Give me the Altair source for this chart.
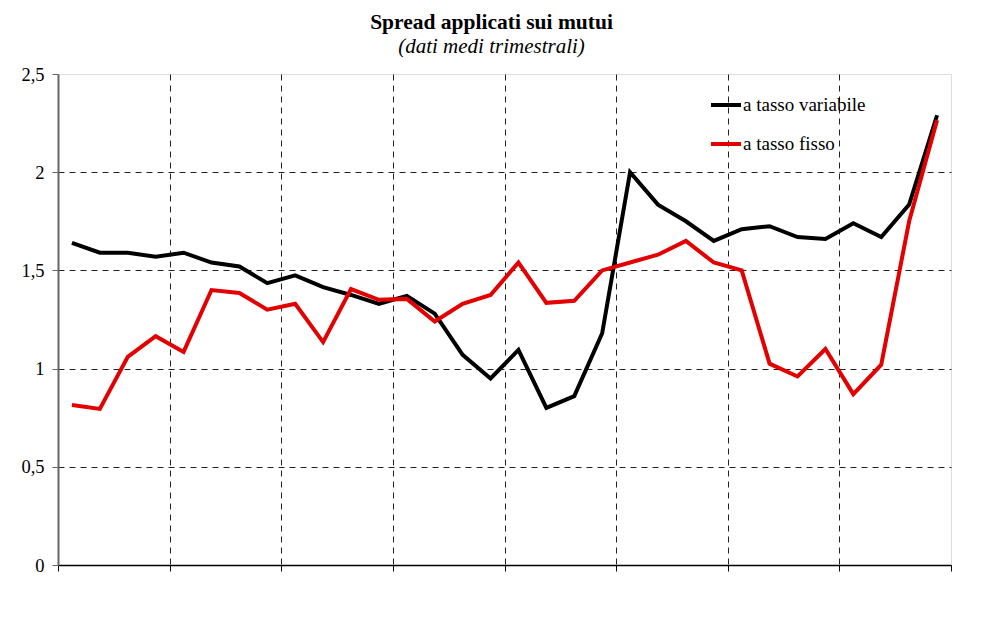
import altair as alt
import pandas as pd

# quarterly observations (32 quarters, 8 years); x labels are not legible in the reference
quarter_index = list(range(32))

variabile = [1.64, 1.59, 1.59, 1.57, 1.59, 1.54, 1.52, 1.435, 1.475, 1.415, 1.375, 1.33,
             1.37, 1.28, 1.07, 0.95, 1.095, 0.80, 0.86, 1.18, 2.00, 1.835, 1.75, 1.65,
             1.71, 1.725, 1.67, 1.66, 1.74, 1.67, 1.835, 2.29]
fisso = [0.815, 0.795, 1.06, 1.165, 1.085, 1.40, 1.385, 1.30, 1.33, 1.135, 1.405, 1.35,
         1.355, 1.24, 1.33, 1.375, 1.54, 1.335, 1.345, 1.50, 1.54, 1.58, 1.65, 1.54,
         1.50, 1.025, 0.96, 1.10, 0.87, 1.02, 1.75, 2.265]

series_names = ["a tasso variabile", "a tasso fisso"]
series_colors = ["#000000", "#e30000"]
year_bounds = [0, 4, 8, 12, 16, 20, 24, 28, 32]
y_ticks = [0, 0.5, 1, 1.5, 2, 2.5]

rows = []
for name, vals in zip(series_names, [variabile, fisso]):
    for q, v in zip(quarter_index, vals):
        rows.append({"q": q + 0.5, "value": v, "serie": name, "order": series_names.index(name)})
df = pd.DataFrame(rows)

FONT = "Liberation Serif"

chart = alt.Chart(df).mark_line(strokeWidth=4, strokeJoin="miter").encode(
    x=alt.X("q:Q", scale=alt.Scale(domain=[0, 32], nice=False, zero=False),
            axis=alt.Axis(values=year_bounds, labels=False, title=None, domainColor="#000000",
                          domainWidth=1.5, tickColor="#000000", tickSize=6, gridColor="#222222",
                          gridDash=[6, 5], gridWidth=1,
                          gridOpacity=alt.condition("datum.value == 0 || datum.value == 32",
                                                    alt.value(0), alt.value(1)))),
    y=alt.Y("value:Q", scale=alt.Scale(domain=[0, 2.5], nice=False),
            axis=alt.Axis(values=y_ticks, title=None, domainColor="#666666", domainWidth=2,
                          tickColor="#666666", tickSize=6, labelPadding=8,
                          labelFont=FONT, labelFontSize=18.5, labelColor="#000000",
                          labelExpr="replace(toString(datum.value), '.', ',')",
                          gridColor="#222222", gridDash=[6, 5], gridWidth=1,
                          gridOpacity=alt.condition("datum.value == 0 || datum.value == 2.5",
                                                    alt.value(0), alt.value(1)))),
    color=alt.Color("serie:N", scale=alt.Scale(domain=series_names, range=series_colors),
                    legend=alt.Legend(title=None, orient="none", legendX=651, legendY=14,
                                      symbolType="stroke", symbolSize=900, symbolStrokeWidth=4,
                                      labelFont=FONT, labelFontSize=19, labelColor="#000000",
                                      labelOffset=0, rowPadding=12)),
    order=alt.Order("order:Q"),
    detail="serie:N",
).properties(
    width=893,
    height=491,
    padding={"left": 50, "top": 66, "right": 40, "bottom": 40},
    autosize=alt.AutoSizeParams(type="none"),
    title=alt.TitleParams(text="Spread applicati sui mutui", subtitle="(dati medi trimestrali)",
                          font=FONT, fontSize=21.5, fontWeight="bold", color="#000000",
                          subtitleFont=FONT, subtitleFontSize=21, subtitleFontStyle="italic",
                          subtitleColor="#000000", subtitlePadding=3,
                          anchor="middle", dx=-13, offset=8),
).configure_view(stroke="#999999", strokeWidth=1.5).configure(background="white")

chart.save("out.html", embed_options={"renderer": "svg", "actions": False})
